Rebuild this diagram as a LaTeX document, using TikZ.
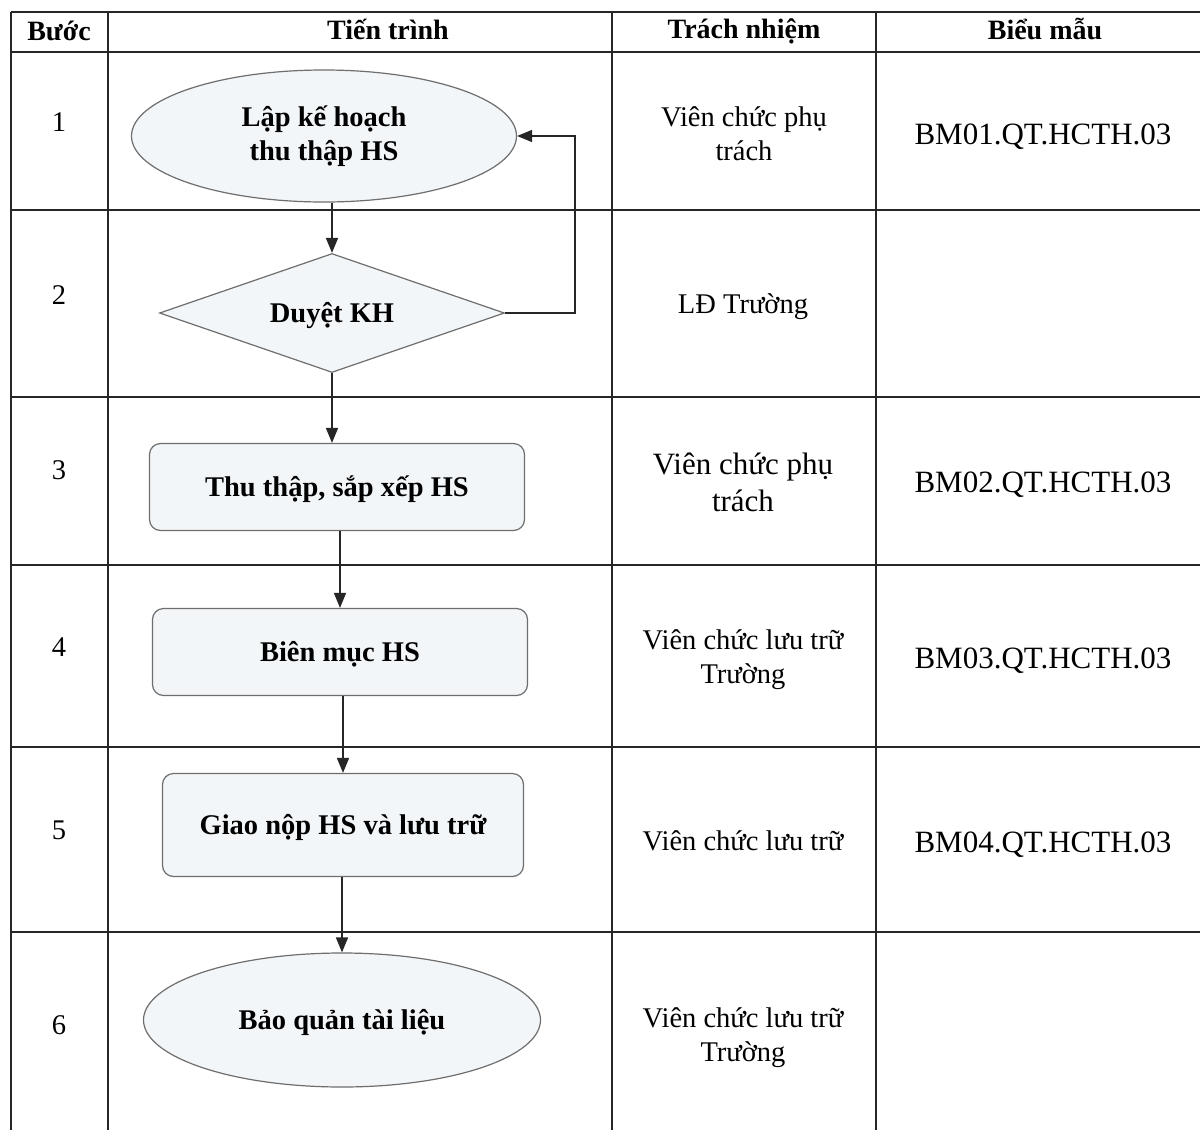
\documentclass[tikz,border=0pt]{standalone}
\usepackage{fontspec}
\setmainfont{Liberation Serif}
\usetikzlibrary{shapes.geometric,arrows.meta}
\definecolor{shapefill}{HTML}{F3F6F8}
\definecolor{shapeline}{HTML}{6E6E6E}
\definecolor{gridline}{HTML}{262626}
\tikzset{
  grid/.style={draw=gridline,line width=1.3pt},
  hdr/.style={font=\bfseries\fontsize{28}{33}\selectfont,inner sep=0pt,text height=18.5pt,text depth=0pt},
  cell/.style={font=\fontsize{28.5}{34}\selectfont,align=center,inner sep=0pt},
  onecell/.style={cell,text height=18.9pt,text depth=0pt},
  bigcell/.style={font=\fontsize{31}{37}\selectfont,align=center,inner sep=0pt},
  bmcell/.style={bigcell,text height=20.5pt,text depth=0pt},
  flowtext/.style={font=\bfseries\fontsize{28.5}{34}\selectfont,align=center,inner sep=0pt},
  oneline/.style={text height=18.9pt,text depth=0pt},
  term/.style={ellipse,flowtext,draw=shapeline,fill=shapefill,line width=1.2pt},
  decide/.style={diamond,flowtext,oneline,draw=shapeline,fill=shapefill,line width=1.2pt,aspect=2.9},
  proc/.style={rectangle,rounded corners=11pt,flowtext,oneline,draw=shapeline,fill=shapefill,line width=1.2pt},
  arr/.style={draw=gridline,line width=1.6pt,-{Triangle[length=15pt,width=12pt]}},
  fbline/.style={draw=gridline,line width=1.4pt,-{Triangle[length=15pt,width=12pt]}}
}
\begin{document}
\begin{tikzpicture}[x=1pt,y=-1pt]
\useasboundingbox[fill=white] (0,0) rectangle (1200,1130);
% table grid
\draw[grid] (11,12) -- (1200,12);
\draw[grid] (11,52) -- (1200,52);
\foreach \yy in {210,397,565,747,932} {\draw[grid] (11,\yy) -- (1200,\yy);}
\foreach \xx in {11,108,612,876} {\draw[grid] (\xx,12) -- (\xx,1130);}
% headers
\node[hdr] (h1) at (59,31) {Bước};
\node[hdr] (h2) at (388,30) {Tiến trình};
\node[hdr] (h3) at (744,29) {Trách nhiệm};
\node[hdr] (h4) at (1045,30) {Biểu mẫu};
% step numbers
\node[cell] (n1) at (59,122) {1};
\node[cell] (n2) at (59,295) {2};
\node[cell] (n3) at (59,470) {3};
\node[cell] (n4) at (59,647) {4};
\node[cell] (n5) at (59,830) {5};
\node[cell] (n6) at (59,1025) {6};
% responsibilities
\node[cell] (r1) at (744,134) {Viên chức phụ\\trách};
\node[onecell] (r2) at (743,304.5) {LĐ Trường};
\node[bigcell] (r3) at (743,482) {Viên chức phụ\\trách};
\node[cell] (r4) at (743,660) {Viên chức lưu trữ\\Trường};
\node[onecell] (r5) at (743,841) {Viên chức lưu trữ};
\node[cell] (r6) at (743,1038) {Viên chức lưu trữ\\Trường};
% forms
\node[bmcell] (f1) at (1043,134) {BM01.QT.HCTH.03};
\node[bmcell] (f3) at (1043,482.5) {BM02.QT.HCTH.03};
\node[bmcell] (f4) at (1043,658) {BM03.QT.HCTH.03};
\node[bmcell] (f5) at (1043,842) {BM04.QT.HCTH.03};
% flow shapes
\node[term,minimum width=385pt,minimum height=132pt] (e1) at (324,136) {Lập kế hoạch\\thu thập HS};
\node[decide,minimum width=345pt,minimum height=119pt] (d2) at (332,313) {Duyệt KH};
\node[proc,minimum width=375pt,minimum height=87pt] (b3) at (337,487) {Thu thập, sắp xếp HS};
\node[proc,minimum width=375pt,minimum height=87pt] (b4) at (340,652) {Biên mục HS};
\node[proc,minimum width=361pt,minimum height=103pt] (b5) at (343,825) {Giao nộp HS và lưu trữ};
\node[term,oneline,minimum width=397pt,minimum height=134pt] (e6) at (342,1020) {Bảo quản tài liệu};
% connectors
\draw[arr] (d2.north |- e1.south) -- (d2.north);
\draw[arr] (d2.south) -- (d2.south |- b3.north);
\draw[arr] (b4.north |- b3.south) -- (b4.north);
\draw[arr] (b5.north |- b4.south) -- (b5.north);
\draw[arr] (e6.north |- b5.south) -- (e6.north);
\coordinate (fb) at (575,313);
\draw[fbline] (d2.east) -- (fb) |- (e1.east);
\end{tikzpicture}
\end{document}
